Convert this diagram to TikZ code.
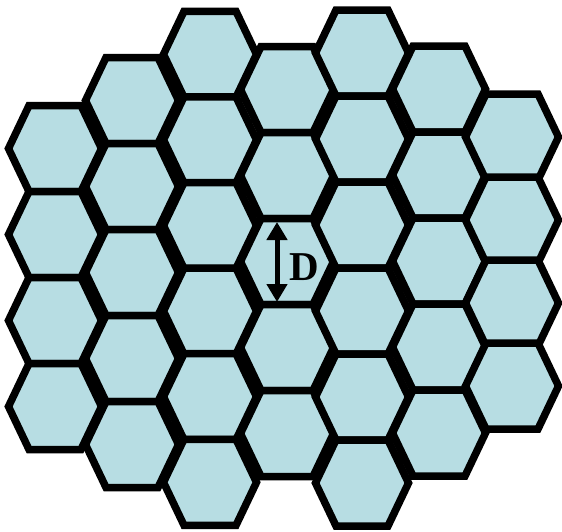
\documentclass[tikz,border=0pt]{standalone}
\usepackage{fontspec}
\setmainfont{Liberation Serif}
\usepackage{tikz}
\usepackage{xcolor}
\usetikzlibrary{arrows.meta}
\definecolor{ink}{HTML}{000000}
\definecolor{cellfill}{HTML}{B7DDE3}
\tikzset{
  hexcell/.style={
    draw=ink, fill=cellfill, line width=7.5pt, line join=miter
  },
  hexpic/.pic={
    \path[hexcell] (-46.5,0) -- (-26,-43) -- (26,-43) -- (46.5,0) -- (26,43) -- (-26,43) -- cycle;
  },
  spanarrow/.style={
    draw=ink, line width=5pt,
    {Triangle[length=18pt,width=20pt]}-{Triangle[length=18pt,width=20pt]}
  },
  spanlabel/.style={
    text=ink, inner sep=0pt, font=\fontsize{41}{41}\selectfont\bfseries
  }
}

\begin{document}
\begin{tikzpicture}[x=1pt,y=-1pt]
  \useasboundingbox (0,0) rectangle (562,531);
  % columns of cells: centre x / top edge / cells / pitch
  \foreach \cx/\ytop/\n/\p in {55/105.5/4/86, 132/57.5/5/86, 210/11.5/6/85.6,
      287/46.5/5/86, 362/10/6/86, 439/46/5/86, 512/95.5/4/83} {
    \foreach \k in {1,...,\n} {
      \pic at (\cx,{\ytop+\p*(\k-0.5)}) {hexpic};
    }
  }
  % cell size D
  \coordinate (dtop) at (277,222);
  \coordinate (dbot) at (277,302);
  \draw[spanarrow] (dtop) -- (dbot);
  \node[spanlabel] (dmark) at (304,267) {D};
\end{tikzpicture}
\end{document}
